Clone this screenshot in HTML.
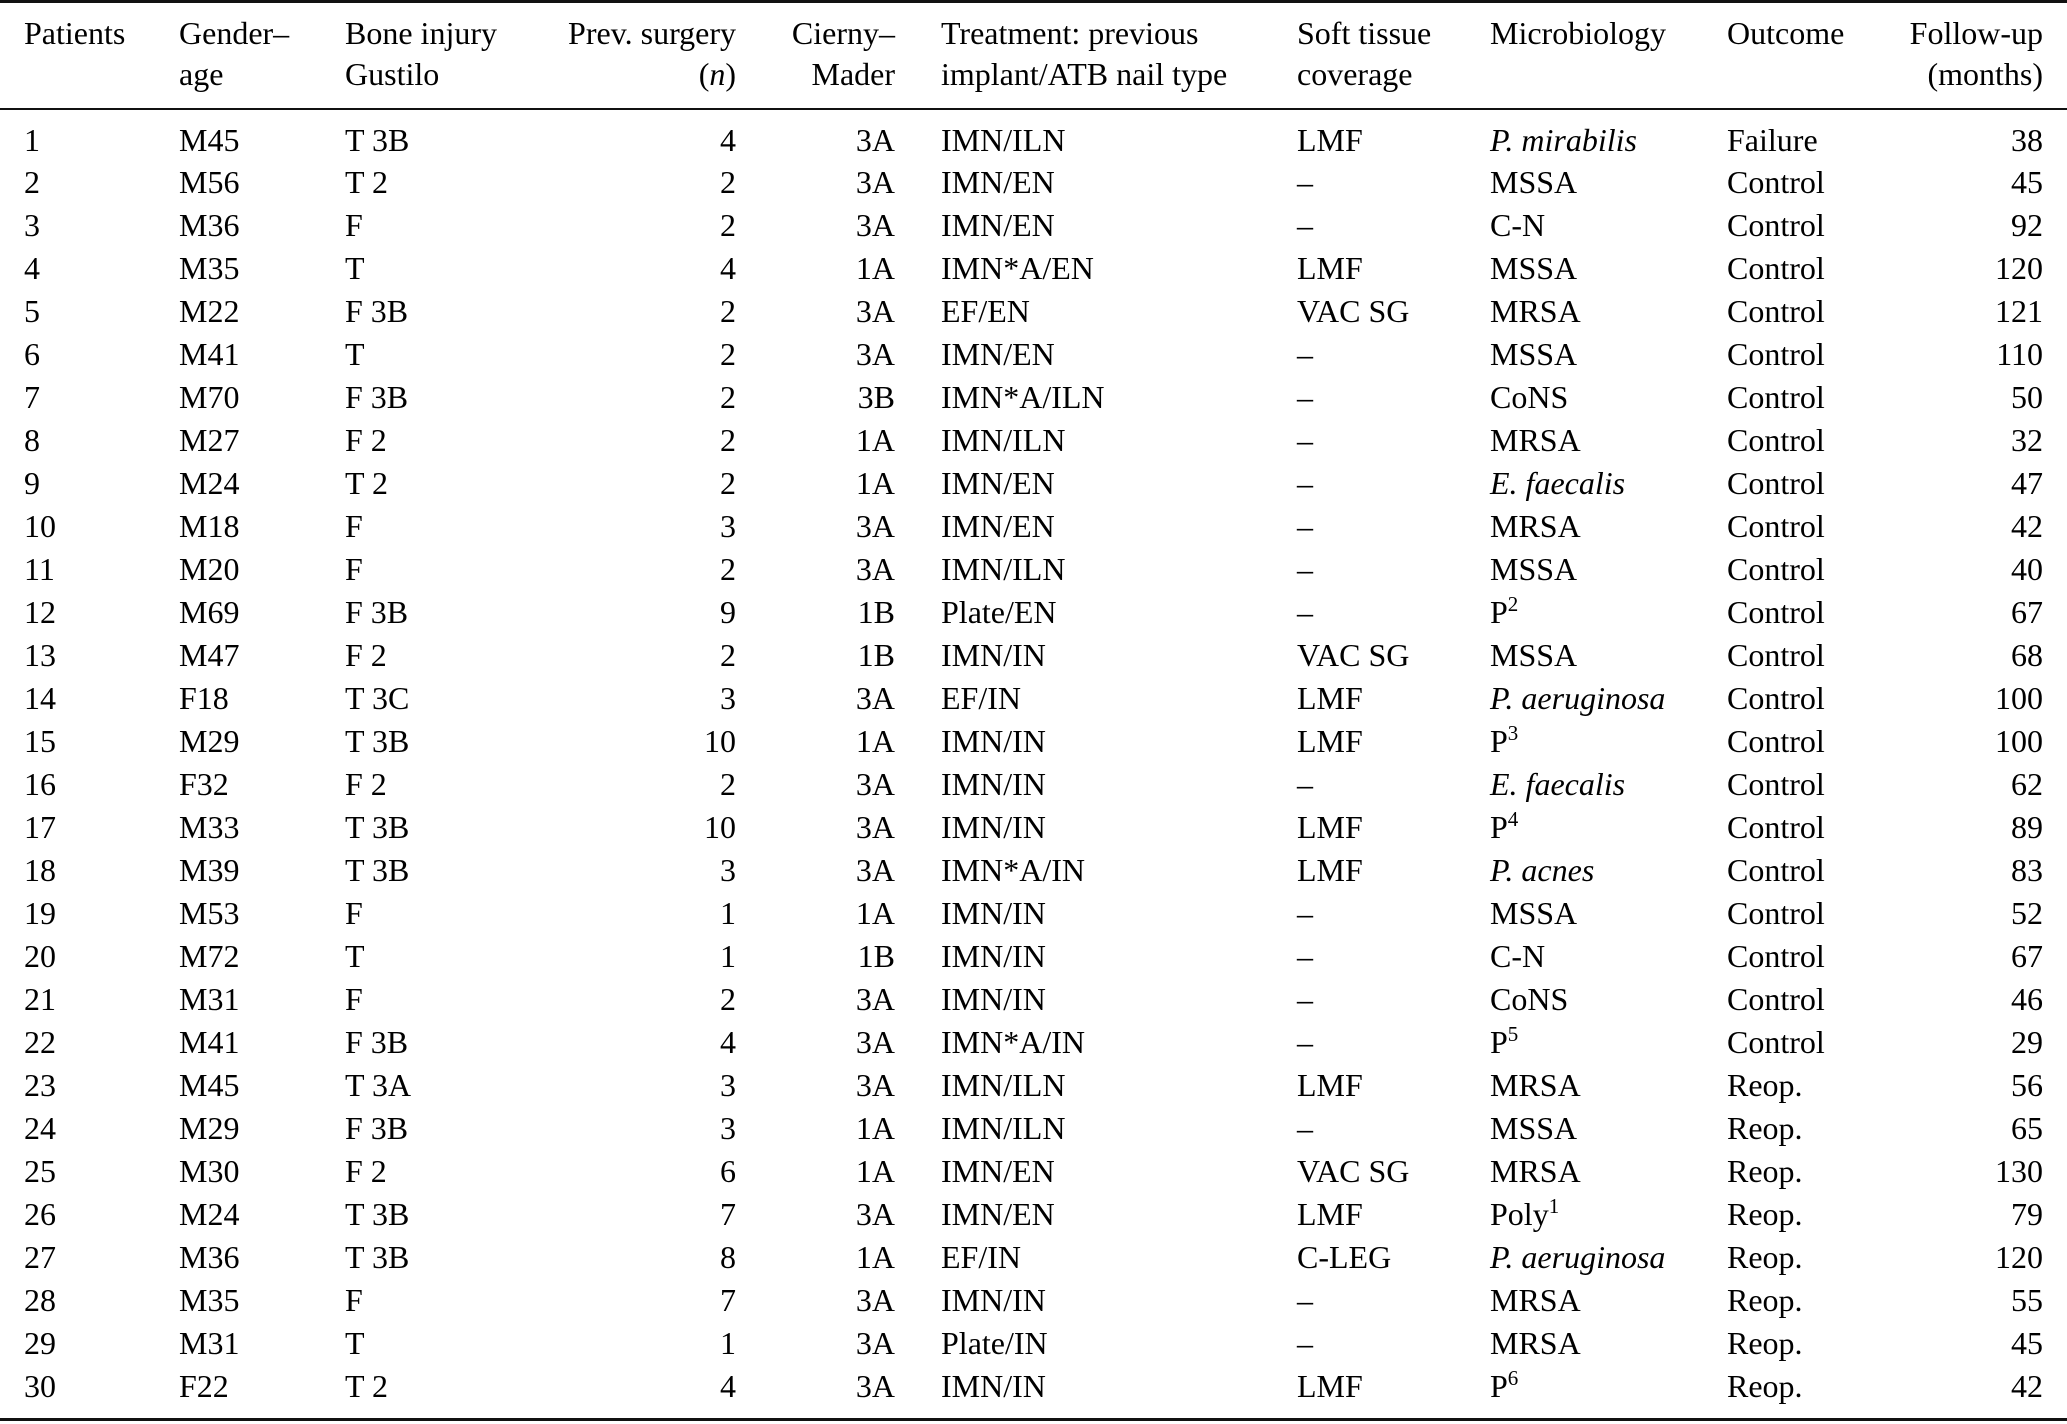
<!DOCTYPE html>
<html><head><meta charset="utf-8"><style>
html,body{margin:0;padding:0;background:#fff;}
body{width:2067px;height:1424px;position:relative;overflow:hidden;font-family:"Liberation Serif","Times New Roman",Times,serif;font-size:32px;color:#000;}
.rule{position:absolute;left:0;width:2067px;background:#111;}
.h{position:absolute;line-height:40px;white-space:nowrap;}
.row{position:absolute;left:0;width:2067px;height:43px;line-height:40px;}
.row span{position:absolute;top:0;white-space:nowrap;}
.c1{left:24px}.c2{left:179px}.c3{left:345px}
.c4{right:1331px}.c5{right:1172px}
.c6{left:941px}.c7{left:1297px}.c8{left:1490px}.c9{left:1727px}
.c10{right:24px}
sup{font-size:21px;line-height:0;vertical-align:12px;}
i{font-style:italic;}
.rows{position:absolute;left:0;top:1.5px;width:2067px;height:1400px;}
</style></head><body>
<div class="rule" style="top:0;height:3px"></div>
<div class="rule" style="top:108px;height:2px"></div>
<div class="rule" style="top:1418px;height:3px"></div>

<div class="h" style="top:13px;left:24px">Patients</div>
<div class="h" style="top:13px;left:179px">Gender–</div>
<div class="h" style="top:54px;left:179px">age</div>
<div class="h" style="top:13px;left:345px">Bone injury</div>
<div class="h" style="top:54px;left:345px">Gustilo</div>
<div class="h" style="top:13px;right:1331px">Prev. surgery</div>
<div class="h" style="top:54px;right:1331px">(<i>n</i>)</div>
<div class="h" style="top:13px;right:1172px">Cierny–</div>
<div class="h" style="top:54px;right:1172px">Mader</div>
<div class="h" style="top:13px;left:941px">Treatment: previous</div>
<div class="h" style="top:54px;left:941px">implant/ATB nail type</div>
<div class="h" style="top:13px;left:1297px">Soft tissue</div>
<div class="h" style="top:54px;left:1297px">coverage</div>
<div class="h" style="top:13px;left:1490px">Microbiology</div>
<div class="h" style="top:13px;left:1727px">Outcome</div>
<div class="h" style="top:13px;right:24px">Follow-up</div>
<div class="h" style="top:54px;right:24px">(months)</div>

<div class="rows">
<div class="row" style="top:118px"><span class="c1">1</span><span class="c2">M45</span><span class="c3">T 3B</span><span class="c4">4</span><span class="c5">3A</span><span class="c6">IMN/ILN</span><span class="c7">LMF</span><span class="c8"><i>P. mirabilis</i></span><span class="c9">Failure</span><span class="c10">38</span></div>
<div class="row" style="top:160.9px"><span class="c1">2</span><span class="c2">M56</span><span class="c3">T 2</span><span class="c4">2</span><span class="c5">3A</span><span class="c6">IMN/EN</span><span class="c7">–</span><span class="c8">MSSA</span><span class="c9">Control</span><span class="c10">45</span></div>
<div class="row" style="top:203.8px"><span class="c1">3</span><span class="c2">M36</span><span class="c3">F</span><span class="c4">2</span><span class="c5">3A</span><span class="c6">IMN/EN</span><span class="c7">–</span><span class="c8">C-N</span><span class="c9">Control</span><span class="c10">92</span></div>
<div class="row" style="top:246.7px"><span class="c1">4</span><span class="c2">M35</span><span class="c3">T</span><span class="c4">4</span><span class="c5">1A</span><span class="c6">IMN*A/EN</span><span class="c7">LMF</span><span class="c8">MSSA</span><span class="c9">Control</span><span class="c10">120</span></div>
<div class="row" style="top:289.6px"><span class="c1">5</span><span class="c2">M22</span><span class="c3">F 3B</span><span class="c4">2</span><span class="c5">3A</span><span class="c6">EF/EN</span><span class="c7">VAC SG</span><span class="c8">MRSA</span><span class="c9">Control</span><span class="c10">121</span></div>
<div class="row" style="top:332.5px"><span class="c1">6</span><span class="c2">M41</span><span class="c3">T</span><span class="c4">2</span><span class="c5">3A</span><span class="c6">IMN/EN</span><span class="c7">–</span><span class="c8">MSSA</span><span class="c9">Control</span><span class="c10">110</span></div>
<div class="row" style="top:375.4px"><span class="c1">7</span><span class="c2">M70</span><span class="c3">F 3B</span><span class="c4">2</span><span class="c5">3B</span><span class="c6">IMN*A/ILN</span><span class="c7">–</span><span class="c8">CoNS</span><span class="c9">Control</span><span class="c10">50</span></div>
<div class="row" style="top:418.3px"><span class="c1">8</span><span class="c2">M27</span><span class="c3">F 2</span><span class="c4">2</span><span class="c5">1A</span><span class="c6">IMN/ILN</span><span class="c7">–</span><span class="c8">MRSA</span><span class="c9">Control</span><span class="c10">32</span></div>
<div class="row" style="top:461.2px"><span class="c1">9</span><span class="c2">M24</span><span class="c3">T 2</span><span class="c4">2</span><span class="c5">1A</span><span class="c6">IMN/EN</span><span class="c7">–</span><span class="c8"><i>E. faecalis</i></span><span class="c9">Control</span><span class="c10">47</span></div>
<div class="row" style="top:504.1px"><span class="c1">10</span><span class="c2">M18</span><span class="c3">F</span><span class="c4">3</span><span class="c5">3A</span><span class="c6">IMN/EN</span><span class="c7">–</span><span class="c8">MRSA</span><span class="c9">Control</span><span class="c10">42</span></div>
<div class="row" style="top:547px"><span class="c1">11</span><span class="c2">M20</span><span class="c3">F</span><span class="c4">2</span><span class="c5">3A</span><span class="c6">IMN/ILN</span><span class="c7">–</span><span class="c8">MSSA</span><span class="c9">Control</span><span class="c10">40</span></div>
<div class="row" style="top:590.9px"><span class="c1">12</span><span class="c2">M69</span><span class="c3">F 3B</span><span class="c4">9</span><span class="c5">1B</span><span class="c6">Plate/EN</span><span class="c7">–</span><span class="c8">P<sup>2</sup></span><span class="c9">Control</span><span class="c10">67</span></div>
<div class="row" style="top:633.8px"><span class="c1">13</span><span class="c2">M47</span><span class="c3">F 2</span><span class="c4">2</span><span class="c5">1B</span><span class="c6">IMN/IN</span><span class="c7">VAC SG</span><span class="c8">MSSA</span><span class="c9">Control</span><span class="c10">68</span></div>
<div class="row" style="top:676.7px"><span class="c1">14</span><span class="c2">F18</span><span class="c3">T 3C</span><span class="c4">3</span><span class="c5">3A</span><span class="c6">EF/IN</span><span class="c7">LMF</span><span class="c8"><i>P. aeruginosa</i></span><span class="c9">Control</span><span class="c10">100</span></div>
<div class="row" style="top:719.6px"><span class="c1">15</span><span class="c2">M29</span><span class="c3">T 3B</span><span class="c4">10</span><span class="c5">1A</span><span class="c6">IMN/IN</span><span class="c7">LMF</span><span class="c8">P<sup>3</sup></span><span class="c9">Control</span><span class="c10">100</span></div>
<div class="row" style="top:762.5px"><span class="c1">16</span><span class="c2">F32</span><span class="c3">F 2</span><span class="c4">2</span><span class="c5">3A</span><span class="c6">IMN/IN</span><span class="c7">–</span><span class="c8"><i>E. faecalis</i></span><span class="c9">Control</span><span class="c10">62</span></div>
<div class="row" style="top:805.4px"><span class="c1">17</span><span class="c2">M33</span><span class="c3">T 3B</span><span class="c4">10</span><span class="c5">3A</span><span class="c6">IMN/IN</span><span class="c7">LMF</span><span class="c8">P<sup>4</sup></span><span class="c9">Control</span><span class="c10">89</span></div>
<div class="row" style="top:848.3px"><span class="c1">18</span><span class="c2">M39</span><span class="c3">T 3B</span><span class="c4">3</span><span class="c5">3A</span><span class="c6">IMN*A/IN</span><span class="c7">LMF</span><span class="c8"><i>P. acnes</i></span><span class="c9">Control</span><span class="c10">83</span></div>
<div class="row" style="top:891.2px"><span class="c1">19</span><span class="c2">M53</span><span class="c3">F</span><span class="c4">1</span><span class="c5">1A</span><span class="c6">IMN/IN</span><span class="c7">–</span><span class="c8">MSSA</span><span class="c9">Control</span><span class="c10">52</span></div>
<div class="row" style="top:934.1px"><span class="c1">20</span><span class="c2">M72</span><span class="c3">T</span><span class="c4">1</span><span class="c5">1B</span><span class="c6">IMN/IN</span><span class="c7">–</span><span class="c8">C-N</span><span class="c9">Control</span><span class="c10">67</span></div>
<div class="row" style="top:977px"><span class="c1">21</span><span class="c2">M31</span><span class="c3">F</span><span class="c4">2</span><span class="c5">3A</span><span class="c6">IMN/IN</span><span class="c7">–</span><span class="c8">CoNS</span><span class="c9">Control</span><span class="c10">46</span></div>
<div class="row" style="top:1020.9px"><span class="c1">22</span><span class="c2">M41</span><span class="c3">F 3B</span><span class="c4">4</span><span class="c5">3A</span><span class="c6">IMN*A/IN</span><span class="c7">–</span><span class="c8">P<sup>5</sup></span><span class="c9">Control</span><span class="c10">29</span></div>
<div class="row" style="top:1063.8px"><span class="c1">23</span><span class="c2">M45</span><span class="c3">T 3A</span><span class="c4">3</span><span class="c5">3A</span><span class="c6">IMN/ILN</span><span class="c7">LMF</span><span class="c8">MRSA</span><span class="c9">Reop.</span><span class="c10">56</span></div>
<div class="row" style="top:1106.7px"><span class="c1">24</span><span class="c2">M29</span><span class="c3">F 3B</span><span class="c4">3</span><span class="c5">1A</span><span class="c6">IMN/ILN</span><span class="c7">–</span><span class="c8">MSSA</span><span class="c9">Reop.</span><span class="c10">65</span></div>
<div class="row" style="top:1149.6px"><span class="c1">25</span><span class="c2">M30</span><span class="c3">F 2</span><span class="c4">6</span><span class="c5">1A</span><span class="c6">IMN/EN</span><span class="c7">VAC SG</span><span class="c8">MRSA</span><span class="c9">Reop.</span><span class="c10">130</span></div>
<div class="row" style="top:1192.5px"><span class="c1">26</span><span class="c2">M24</span><span class="c3">T 3B</span><span class="c4">7</span><span class="c5">3A</span><span class="c6">IMN/EN</span><span class="c7">LMF</span><span class="c8">Poly<sup>1</sup></span><span class="c9">Reop.</span><span class="c10">79</span></div>
<div class="row" style="top:1235.4px"><span class="c1">27</span><span class="c2">M36</span><span class="c3">T 3B</span><span class="c4">8</span><span class="c5">1A</span><span class="c6">EF/IN</span><span class="c7">C-LEG</span><span class="c8"><i>P. aeruginosa</i></span><span class="c9">Reop.</span><span class="c10">120</span></div>
<div class="row" style="top:1278.3px"><span class="c1">28</span><span class="c2">M35</span><span class="c3">F</span><span class="c4">7</span><span class="c5">3A</span><span class="c6">IMN/IN</span><span class="c7">–</span><span class="c8">MRSA</span><span class="c9">Reop.</span><span class="c10">55</span></div>
<div class="row" style="top:1321.2px"><span class="c1">29</span><span class="c2">M31</span><span class="c3">T</span><span class="c4">1</span><span class="c5">3A</span><span class="c6">Plate/IN</span><span class="c7">–</span><span class="c8">MRSA</span><span class="c9">Reop.</span><span class="c10">45</span></div>
<div class="row" style="top:1364.1px"><span class="c1">30</span><span class="c2">F22</span><span class="c3">T 2</span><span class="c4">4</span><span class="c5">3A</span><span class="c6">IMN/IN</span><span class="c7">LMF</span><span class="c8">P<sup>6</sup></span><span class="c9">Reop.</span><span class="c10">42</span></div>
</div>
</body></html>
